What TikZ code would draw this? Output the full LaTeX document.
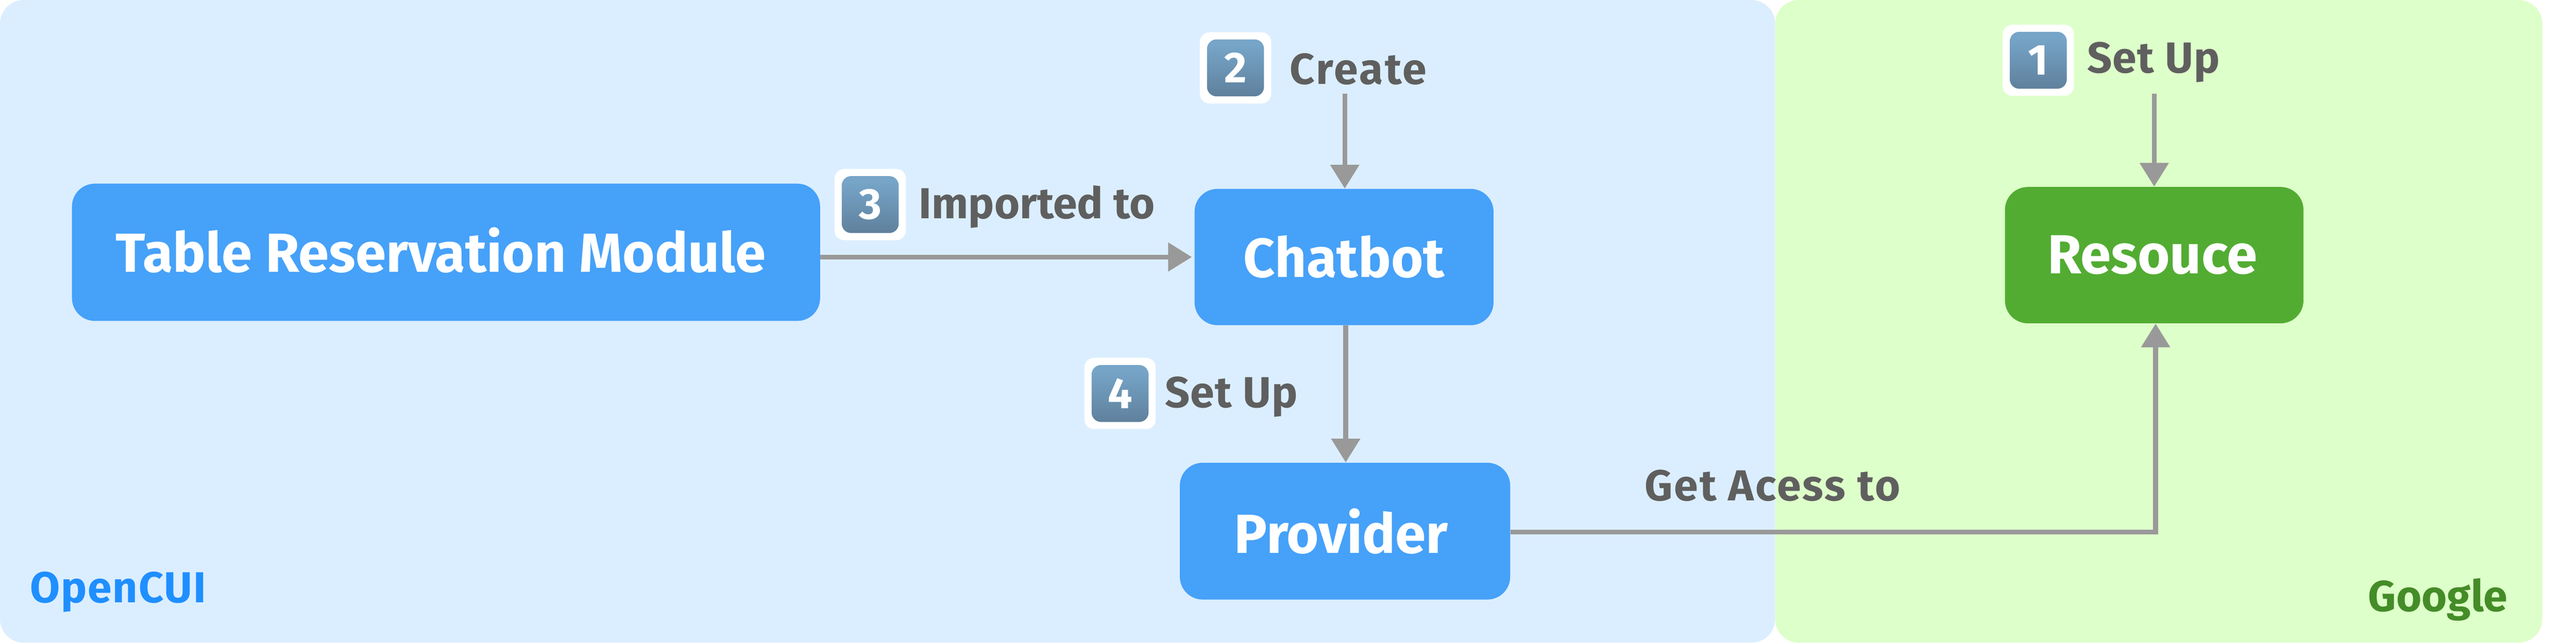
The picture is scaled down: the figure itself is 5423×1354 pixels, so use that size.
\documentclass[tikz,border=0pt]{standalone}
\usepackage{fontspec}
\setmainfont{Fira Sans}
\usetikzlibrary{arrows.meta,calc}
\definecolor{panelblue}{HTML}{DBEEFF}
\definecolor{panelgreen}{HTML}{DDFFC9}
\definecolor{boxblue}{HTML}{46A1F9}
\definecolor{boxgreen}{HTML}{52AC32}
\definecolor{txtgray}{HTML}{5F5F5F}
\definecolor{arrowgray}{HTML}{999999}
\definecolor{opencui}{HTML}{1F8FFF}
\definecolor{googlegreen}{HTML}{448C28}
\definecolor{capA}{HTML}{C5D6E8}
\definecolor{capB}{HTML}{76A5C8}
\definecolor{capC}{HTML}{5A7893}
\pgfdeclareverticalshading{capshade}{100bp}{
  color(0bp)=(capC); color(15bp)=(capC); color(70bp)=(capB); color(82bp)=(capB); color(88bp)=(capA); color(100bp)=(capA)}
\newcommand{\spaced}[2]{{\addfontfeature{LetterSpace=#1}#2}}
\tikzset{
  x=0.01cm,y=-0.01cm,
  boxnode/.style={rounded corners=0.48cm,inner sep=0pt,text=white,font=\fontsize{33}{33}\selectfont\bfseries},
  lbl/.style={anchor=base west,inner sep=0pt,text=txtgray,font=\fontsize{26}{26}\selectfont\bfseries},
  conn/.style={draw=arrowgray,line width=0.1cm,-{Triangle[length=0.5cm,width=0.59cm]}},
  capnum/.style={inner sep=0pt,text=white,font=\fontsize{26}{26}\selectfont\bfseries},
}
\newcommand{\badge}[4]{%
  \fill[white,rounded corners=0.2cm] (#1,#2) rectangle +(150,150);
  \shade[rounded corners=0.2cm,shading=capshade] ($(#1,#2)+(15,15)$) rectangle +(120,120);
  \node[capnum] (#3) at ($(#1,#2)+(75,75)$) {#4};
}
\begin{document}
\begin{tikzpicture}
\useasboundingbox (0,0) rectangle (5423,1354);
\fill[panelgreen,rounded corners=0.5cm] (3737,0) rectangle (5352,1354);
\fill[panelblue,rounded corners=0.5cm] (0,0) rectangle (3737,1354);
\node[boxnode,fill=boxblue,minimum width=15.74cm,minimum height=2.89cm] (table) at (939,531.5) {\raisebox{0.1cm}{Table Reservation Module}\kern0.22cm\relax};
\node[boxnode,fill=boxblue,minimum width=6.29cm,minimum height=2.87cm] (chatbot) at (2829.5,541.5) {Chatbot};
\node[boxnode,fill=boxblue,minimum width=6.95cm,minimum height=2.88cm] (provider) at (2831.5,1119) {Provider\kern0.16cm\relax};
\node[boxnode,fill=boxgreen,minimum width=6.28cm,minimum height=2.87cm] (resource) at (4535,537.5) {\raisebox{-0.03cm}{Resouce}\kern0.08cm\relax};
\badge{4216}{52}{b1}{1}
\badge{2526}{68}{b2}{2}
\badge{1757}{356}{b3}{3}
\badge{2283}{754}{b4}{4}
\node[lbl] (l1) at (4393,153) {\spaced{1.5}{Set Up}};
\node[lbl] (l2) at (2715,177) {\spaced{4}{Create}};
\node[lbl] (l3) at (1934,460) {Imported to};
\node[lbl] (l4) at (2452,858) {\spaced{1.5}{Set Up}};
\node[lbl] (l5) at (3462,1055) {\spaced{3.5}{Get Acess to}};
\node[anchor=base west,inner sep=0pt,text=opencui,font=\fontsize{26}{26}\selectfont\bfseries] (open) at (63,1270) {\spaced{2}{OpenCUI}};
\node[anchor=base west,inner sep=0pt,text=googlegreen,font=\fontsize{26}{26}\selectfont\bfseries] (goog) at (4985,1288) {Google};
\coordinate (c1) at (4535,197);
\coordinate (c2) at (2831,197);
\draw[conn] (c1) -- (resource.north);
\draw[conn] (c2) -- (chatbot.north -| c2);
\draw[conn] (table.east |- chatbot.west) -- ([xshift=-0.05cm]chatbot.west);
\draw[conn] ([xshift=0.035cm]chatbot.south) -- ([xshift=0.035cm]chatbot.south |- provider.north);
\draw[conn] ([yshift=-0.02cm]provider.east) -| ([xshift=0.03cm]resource.south);
\end{tikzpicture}
\end{document}
